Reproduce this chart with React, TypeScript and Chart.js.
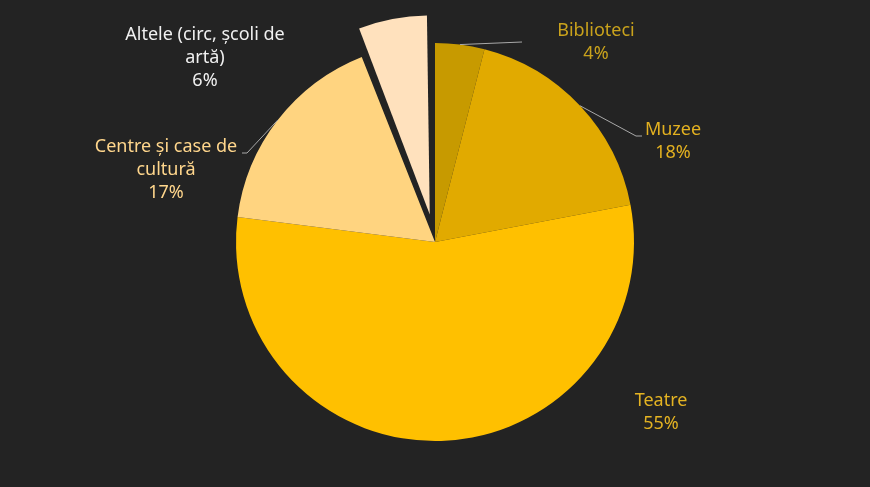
import React, { useEffect, useRef } from 'react';
import { Chart, registerables, Plugin } from 'chart.js';

Chart.register(...registerables);

// data
const categories = ['Biblioteci', 'Muzee', 'Teatre', 'Centre și case de cultură', 'Altele (circ, școli de artă)'];
const shares = [4, 18, 55, 17, 6];
const labelLines = [
  ['Biblioteci', '4%'],
  ['Muzee', '18%'],
  ['Teatre', '55%'],
  ['Centre și case de', 'cultură', '17%'],
  ['Altele (circ, școli de', 'artă)', '6%'],
];

// styles
const sliceColors = ['#c79a00', '#e1aa00', '#ffc000', '#ffd480', '#ffe1bd'];
const textColors = ['#c9a21c', '#e2b020', '#e4b322', '#ffd68c', '#f0f0f0'];
// chart.js moves an arc by offset / 4
const explode = [0, 0, 0, 0, 112];
const RADIUS = 199;
const BG = '#232323';

// label placement relative to pie centre: text anchor, optional leader elbow + end
const labelAnchors: [number, number][] = [[161, -211], [238, -112], [226, 159], [-269, -95], [-230, -207]];
const leaderLines: ([number, number][] | null)[] = [
  [[87, -200]],
  [[201, -106], [207, -106]],
  null,
  [[-188, -89], [-193, -89]],
  null,
];

// keep exploded slices at the same radius as the rest
const keepRadius: Plugin<'pie'> = {
  id: 'keepRadius',
  beforeDatasetsDraw(chart) {
    const meta = chart.getDatasetMeta(0);
    meta.data.forEach((el: any, i) => {
      const off = explode[i] / 4;
      if (!off) return;
      const fix = 1 - Math.sin(Math.min(Math.PI, el.circumference || 0));
      el.outerRadius = RADIUS - off * fix;
    });
  },
};

const outsideLabels: Plugin<'pie'> = {
  id: 'outsideLabels',
  afterDatasetsDraw(chart) {
    const ctx = chart.ctx;
    const meta = chart.getDatasetMeta(0);
    const arc0: any = meta.data[0];
    if (!arc0) return;
    const cx = arc0.x;
    const cy = arc0.y;
    ctx.save();
    meta.data.forEach((el: any, i) => {
      const { startAngle, endAngle, x, y } = el.getProps(['startAngle', 'endAngle', 'x', 'y'], true);
      const mid = (startAngle + endAngle) / 2;
      const pts = leaderLines[i];
      if (pts) {
        ctx.beginPath();
        ctx.strokeStyle = '#a9a9a9';
        ctx.lineWidth = 1;
        ctx.moveTo(x + Math.cos(mid) * RADIUS, y + Math.sin(mid) * RADIUS);
        pts.forEach(([dx, dy]) => ctx.lineTo(cx + dx, cy + dy));
        ctx.stroke();
      }
      const [ax, ay] = labelAnchors[i];
      ctx.fillStyle = textColors[i];
      ctx.font = '18px "Noto Sans", sans-serif';
      ctx.textAlign = 'center';
      ctx.textBaseline = 'middle';
      labelLines[i].forEach((line, j) => ctx.fillText(line, cx + ax, cy + ay + j * 23));
    });
    ctx.restore();
  },
};

const App: React.FC = () => {
  const chartRef = useRef<HTMLCanvasElement>(null);
  const chartInstanceRef = useRef<Chart | null>(null);

  useEffect(() => {
    document.body.style.margin = '0';
    if (chartRef.current) {
      if (chartInstanceRef.current) {
        chartInstanceRef.current.destroy();
      }
      const ctx = chartRef.current.getContext('2d');
      if (ctx) {
        chartInstanceRef.current = new Chart(ctx, {
          type: 'pie',
          data: {
            labels: categories,
            datasets: [{
              data: shares,
              backgroundColor: sliceColors,
              borderWidth: 0,
              offset: explode,
            }]
          },
          options: {
            animation: false,
            responsive: true,
            maintainAspectRatio: false,
            radius: RADIUS,
            events: [],
            layout: { padding: { top: 0, bottom: 3 } },
            plugins: {
              legend: { display: false },
              tooltip: { enabled: false }
            }
          },
          plugins: [keepRadius, outsideLabels]
        });
      }
    }
    return () => {
      if (chartInstanceRef.current) {
        chartInstanceRef.current.destroy();
        chartInstanceRef.current = null;
      }
    };
  }, []);

  return (
    <div style={{ width: 870, height: 487, background: BG, position: 'relative' }}>
      <canvas ref={chartRef}></canvas>
    </div>
  );
};

export default App;
